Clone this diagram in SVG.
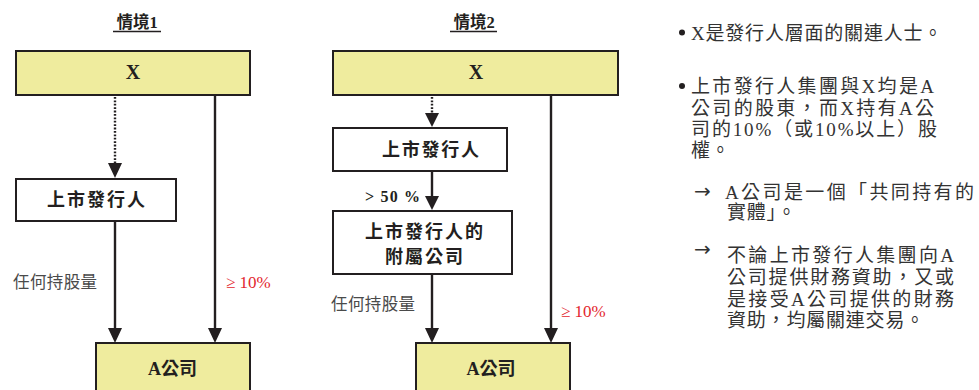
<svg xmlns="http://www.w3.org/2000/svg" width="979" height="390" viewBox="0 0 979 390">
<style>
.box{stroke:#231f20;stroke-width:2;}
.yel{fill:#efec9e;}
.wht{fill:#ffffff;}
.t{font-family:"Liberation Serif","Noto Sans CJK TC",serif;fill:#231f20;}
.b{font-weight:bold;}
.ln{stroke:#231f20;stroke-width:2.4;fill:none;}
.dot{stroke:#231f20;stroke-width:2.4;fill:none;stroke-dasharray:1.8 1.6;}
.hd{fill:#231f20;}
.gray{fill:#4a4a4a;}
.red{fill:#e3262d;}
.note{font-family:"Liberation Serif","Noto Sans CJK TC",serif;fill:#333333;font-size:19px;}
.arr{font-family:"DejaVu Sans",sans-serif;fill:#333333;font-size:20px;}
</style>
<rect width="979" height="390" fill="#ffffff"/>

<g id="title1">
<text class="t b" x="137" y="28" font-size="16.5" text-anchor="middle">情境1</text>
<line x1="113" y1="31.5" x2="161" y2="31.5" stroke="#231f20" stroke-width="1.4"/>
</g>
<g id="title2">
<text class="t b" x="474" y="28" font-size="16.5" text-anchor="middle">情境2</text>
<line x1="450" y1="31.5" x2="497" y2="31.5" stroke="#231f20" stroke-width="1.4"/>
</g>

<g id="s1-x">
<rect class="box yel" x="16" y="51" width="234" height="44"/>
<text class="t b" x="133" y="79" font-size="20" text-anchor="middle">X</text>
</g>
<g id="s1-issuer">
<rect class="box wht" x="16" y="179" width="160" height="42"/>
<text class="t b" x="96" y="206" font-size="18" text-anchor="middle" textLength="98" lengthAdjust="spacing">上市發行人</text>
</g>
<g id="s1-a">
<rect class="box yel" x="96" y="343" width="154" height="60"/>
<text class="t b" x="172.5" y="375" font-size="18" text-anchor="middle">A公司</text>
</g>

<g id="s2-x">
<rect class="box yel" x="333" y="51" width="285" height="44"/>
<text class="t b" x="476" y="79" font-size="20" text-anchor="middle">X</text>
</g>
<g id="s2-issuer">
<rect class="box wht" x="333" y="128" width="174" height="43"/>
<text class="t b" x="430.5" y="156" font-size="18" text-anchor="middle" textLength="97" lengthAdjust="spacing">上市發行人</text>
</g>
<g id="s2-sub">
<rect class="box wht" x="333" y="211" width="179" height="63"/>
<text class="t b" x="424" y="237.5" font-size="18" text-anchor="middle" textLength="118" lengthAdjust="spacing">上市發行人的</text>
<text class="t b" x="424" y="263" font-size="18" text-anchor="middle" textLength="78" lengthAdjust="spacing">附屬公司</text>
</g>
<g id="s2-a">
<rect class="box yel" x="416" y="343" width="154" height="60"/>
<text class="t b" x="491" y="375" font-size="18" text-anchor="middle">A公司</text>
</g>

<g id="connectors">
<line class="dot" x1="115" y1="97" x2="115" y2="164"/>
<polygon class="hd" points="108,163 122,163 115,178"/>
<line class="ln" x1="115" y1="221" x2="115" y2="330"/>
<polygon class="hd" points="108,328 122,328 115,343"/>
<line class="ln" x1="215" y1="95" x2="215" y2="330"/>
<polygon class="hd" points="208,328 222,328 215,343"/>

<line class="dot" x1="432" y1="97" x2="432" y2="114"/>
<polygon class="hd" points="425,113 439,113 432,127"/>
<line class="ln" x1="432" y1="171" x2="432" y2="198"/>
<polygon class="hd" points="425,196 439,196 432,210"/>
<line class="ln" x1="432" y1="274" x2="432" y2="330"/>
<polygon class="hd" points="425,328 439,328 432,343"/>
<line class="ln" x1="551" y1="95" x2="551" y2="330"/>
<polygon class="hd" points="544,328 558,328 551,343"/>
</g>

<g id="labels">
<text class="t gray" x="13" y="288" font-size="16.5" textLength="84" lengthAdjust="spacing">任何持股量</text>
<text class="t red" x="226" y="287.5" font-size="17">≥ 10%</text>
<text class="t gray" x="331" y="309.5" font-size="16.5" textLength="84" lengthAdjust="spacing">任何持股量</text>
<text class="t red" x="561" y="316.5" font-size="17">≥ 10%</text>
<text class="t b" x="365" y="202" font-size="16" textLength="55" lengthAdjust="spacing">&gt; 50 %</text>
</g>

<g id="notes">
<circle cx="682" cy="32.5" r="3" fill="#231f20"/>
<text class="note" x="691" y="39.5" letter-spacing="0.8">X是發行人層面的關連人士。</text>
<circle cx="682" cy="86" r="3" fill="#231f20"/>
<text class="note" x="691" y="92.8" textLength="243" lengthAdjust="spacing">上市發行人集團與X均是A</text>
<text class="note" x="691" y="114.5" textLength="243" lengthAdjust="spacing">公司的股東，而X持有A公</text>
<text class="note" x="691" y="135.5" textLength="246" lengthAdjust="spacing">司的10%（或10%以上）股</text>
<text class="note" x="691" y="156.5" letter-spacing="0.8">權。</text>
<text class="arr" x="694" y="198">→</text>
<text class="note" x="725" y="198.8" textLength="249" lengthAdjust="spacing">A公司是一個「共同持有的</text>
<text class="note" x="727" y="218.8" letter-spacing="0.8">實體」。</text>
<text class="arr" x="694" y="255.5">→</text>
<text class="note" x="727" y="262" textLength="227" lengthAdjust="spacing">不論上市發行人集團向A</text>
<text class="note" x="727" y="283.8" textLength="227" lengthAdjust="spacing">公司提供財務資助，又或</text>
<text class="note" x="727" y="305.5" textLength="227" lengthAdjust="spacing">是接受A公司提供的財務</text>
<text class="note" x="727" y="327" letter-spacing="0.8">資助，均屬關連交易。</text>
</g>
</svg>
